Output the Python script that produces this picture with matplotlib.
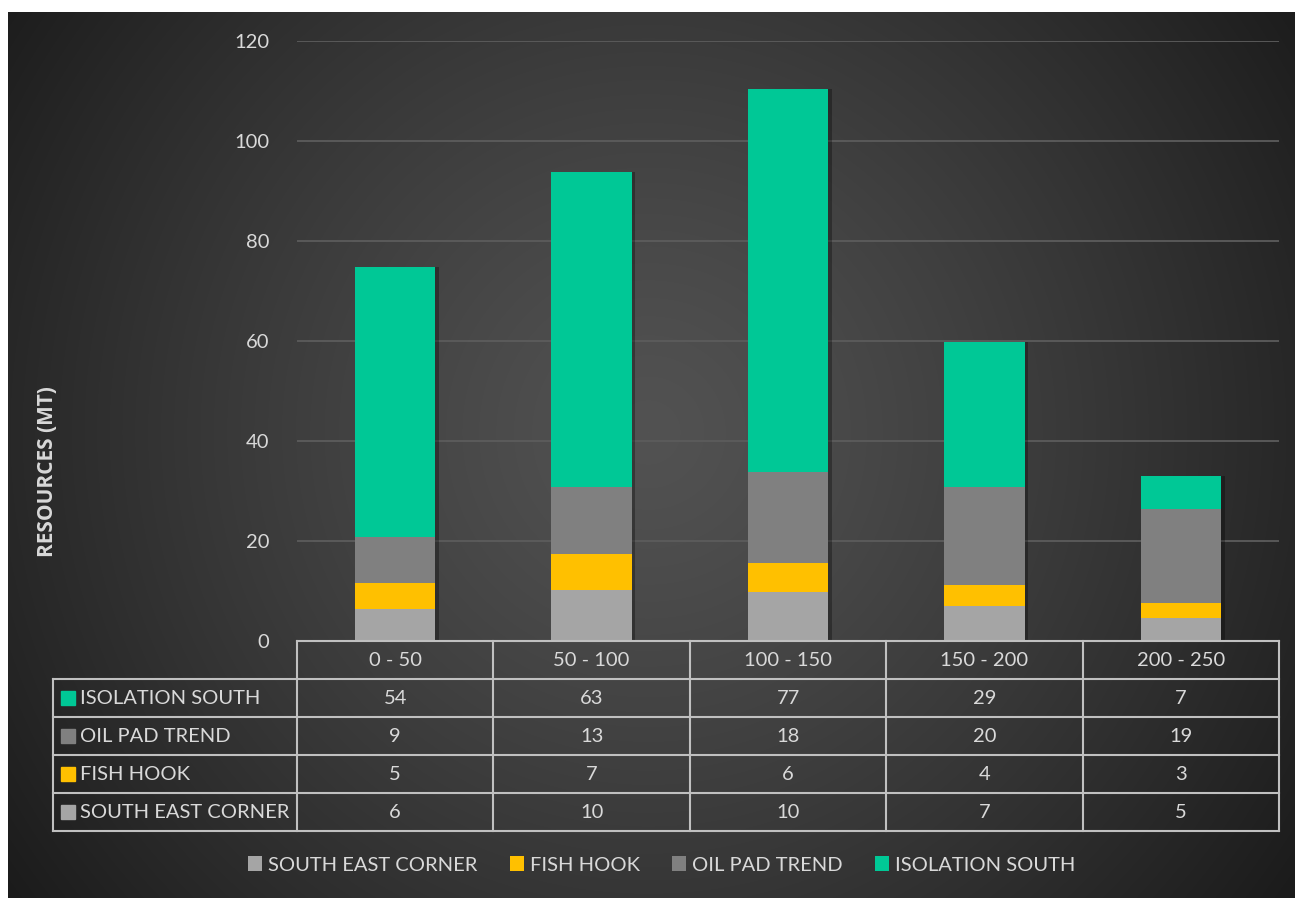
import numpy as np
import matplotlib.pyplot as plt
import matplotlib.transforms as mtransforms
from matplotlib.patches import Patch
import matplotlib.patheffects as pe

plt.rcParams['font.family'] = ['Lato', 'DejaVu Sans']

categories = ['0 - 50', '50 - 100', '100 - 150', '150 - 200', '200 - 250']
series_names = ['SOUTH EAST CORNER', 'FISH HOOK', 'OIL PAD TREND', 'ISOLATION SOUTH']
south_east = [6.4, 10.2, 9.8, 7.0, 4.6]
fish_hook = [5.2, 7.2, 5.8, 4.2, 3.0]
oil_pad = [9.2, 13.4, 18.2, 19.6, 18.8]
isolation = [54.0, 63.0, 76.6, 29.0, 6.6]
colors = ['#a5a5a5', '#ffc000', '#808080', '#00c896']
y_ticks = [0, 20, 40, 60, 80, 100, 120]

series = [south_east, fish_hook, oil_pad, isolation]
txt = '#d9d9d9'
fs = 14.5
W, H = 1295, 900

fig = plt.figure(figsize=(W / 100, H / 100), dpi=100, facecolor='white')

# radial gradient background
bg = fig.add_axes([8 / W, 2 / H, (W - 8) / W, (898 - 12) / H])
bg.axis('off')
yy, xx = np.mgrid[0:886, 0:1287]
r = np.hypot(xx - 640, yy - 420)
shade = (82 - 54 * (r / 780) ** 1.25) / 255
bg.imshow(np.dstack([shade] * 3), aspect='auto', interpolation='bilinear')

ax = fig.add_axes([297 / W, (H - 641) / H, (1279 - 297) / W, 600 / H])
ax.set_facecolor('none')
x = np.arange(len(categories))
bottom = np.zeros(len(categories))
shadow = [pe.SimplePatchShadow(offset=(2.5, 0), alpha=0.3, shadow_rgbFace='black'), pe.Normal()]
for vals, col, name in zip(series, colors, series_names):
    bars = ax.bar(x, vals, 0.41, bottom=bottom, color=col, label=name, zorder=3)
    for b in bars:
        b.set_path_effects(shadow)
    bottom += np.array(vals)

ax.set_xlim(-0.5, len(categories) - 0.5)
ax.set_ylim(0, 120)
ax.set_yticks(y_ticks)
ax.grid(axis='y', color='#5c5c5c', linewidth=1.3, zorder=0)
ax.set_xticks([])
for s in ax.spines.values():
    s.set_visible(False)
ax.tick_params(axis='y', length=0, colors=txt, labelsize=fs, pad=20)
ax.set_ylabel('RESOURCES (MT)', color=txt, fontsize=15, fontweight='bold',
              family=['Open Sans', 'DejaVu Sans'], labelpad=0)
ax.yaxis.set_label_coords(-0.243, 0.283)

# data table under the axes
tr = mtransforms.blended_transform_factory(ax.transData, ax.transAxes)
row_h = 38 / 600
line_kw = dict(color='#c0c0c0', linewidth=1.5, transform=tr, clip_on=False, zorder=4)
left = -0.5 - 244 / 196.4
right = len(categories) - 0.5
n_rows = len(series)
ax.plot([-0.5, right], [0, 0], **line_kw)
for k in range(n_rows + 1):
    yk = -row_h * (k + 1)
    ax.plot([left, right], [yk, yk], **line_kw)
for xe in np.arange(len(categories) + 1) - 0.5:
    ax.plot([xe, xe], [0, -row_h * (n_rows + 1)], **line_kw)
ax.plot([left, left], [-row_h, -row_h * (n_rows + 1)], **line_kw)
for i, c in enumerate(categories):
    ax.text(i, -row_h * 0.5, c, transform=tr, ha='center', va='center', color=txt, fontsize=fs)

rows = list(zip(series_names, series, colors))[::-1]
for k, (name, vals, col) in enumerate(rows):
    yc = -row_h * (k + 1.5)
    ax.plot([left + 0.076], [yc], marker='s', markersize=10, color=col, transform=tr,
            clip_on=False, linestyle='none', zorder=5)
    ax.text(left + 0.14, yc, name, transform=tr, ha='left', va='center', color=txt, fontsize=fs)
    for i, v in enumerate(vals):
        ax.text(i, yc, f'{round(v):d}', transform=tr, ha='center', va='center', color=txt, fontsize=fs)

handles = [Patch(facecolor=c, label=n) for c, n in zip(colors, series_names)]
leg = fig.legend(handles=handles, loc='center', bbox_to_anchor=(662 / W, (H - 865) / H), ncol=4,
                 frameon=False, fontsize=fs, labelcolor=txt, handlelength=0.7, handleheight=0.7,
                 handletextpad=0.3, columnspacing=1.6)

fig.savefig('out.png', dpi=100, facecolor=fig.get_facecolor())
